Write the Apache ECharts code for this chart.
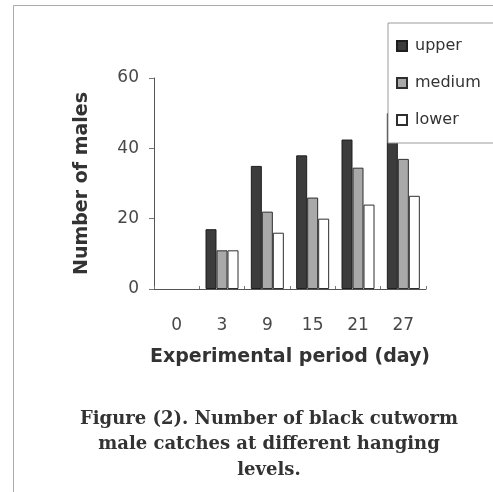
<!DOCTYPE html>
<html>
<head>
<meta charset="utf-8">
<script src="https://cdn.jsdelivr.net/npm/echarts@6/dist/echarts.min.js"></script>
<style>html,body{margin:0;padding:0;background:#fff}#c{width:493px;height:492px}</style>
</head>
<body>
<div id="c"></div>
<script>
var categories = ['0', '3', '9', '15', '21', '27'];
var upper = [0, 17, 35, 38, 42.5, 50];
var medium = [0, 11, 22, 26, 34.5, 37];
var lower = [0, 11, 16, 20, 24, 26.5];
var seriesNames = ['upper', 'medium', 'lower'];
var yTicks = { min: 0, max: 60, interval: 20 };
var captionLines = ['Figure (2). Number of black cutworm', 'male catches at different hanging', 'levels.'];

var chart = echarts.init(document.getElementById('c'), null, { renderer: 'canvas' });
var sans = '"DejaVu Sans", "Liberation Sans", Arial, sans-serif';
var serif = '"DejaVu Serif", "Liberation Serif", serif';
var styles = [
  { color: '#3c3c3c', borderColor: '#1e1e1e', borderWidth: 1 },
  { color: '#a9a9a9', borderColor: '#2e2e2e', borderWidth: 1 },
  { color: '#ffffff', borderColor: '#2e2e2e', borderWidth: 1 }
];
var dataSets = [upper, medium, lower];
var series = seriesNames.map(function (n, i) {
  return {
    name: n, type: 'bar',
    data: dataSets[i].map(function (v) { return v === 0 ? { value: v, itemStyle: { borderWidth: 0 } } : v; }),
    barWidth: 11, barGap: '0%',
    itemStyle: styles[i], emphasis: { disabled: true }, z: 2
  };
});

var caption = captionLines.map(function (t, i) {
  return {
    type: 'text', x: 269, y: 410 + i * 25.5,
    style: { text: t, font: 'bold 18px ' + serif, fill: '#333', textAlign: 'center' }
  };
});

chart.setOption({
  animation: false,
  backgroundColor: '#ffffff',
  grid: { left: 154, right: 67, top: 78, bottom: 203, containLabel: false },
  legend: {
    orient: 'vertical', left: 388, top: 23,
    padding: [15, 30, 15, 8], itemGap: 21,
    itemWidth: 10, itemHeight: 10, icon: 'rect',
    backgroundColor: '#ffffff', borderColor: '#9a9a9a', borderWidth: 1, borderRadius: 0,
    textStyle: { fontFamily: sans, fontSize: 16, color: '#333', padding: [0, 0, 0, 3] },
    data: seriesNames, z: 10
  },
  xAxis: {
    type: 'category', data: categories,
    name: 'Experimental period (day)', nameLocation: 'middle', nameGap: 59,
    nameTextStyle: { fontFamily: sans, fontSize: 19, fontWeight: 'bold', color: '#333' },
    axisLine: { lineStyle: { color: '#555', width: 1 } },
    axisTick: { show: true, length: 3, inside: true, lineStyle: { color: '#777' } },
    axisLabel: { fontFamily: sans, fontSize: 17, color: '#484848', margin: 28 }
  },
  yAxis: {
    type: 'value', min: yTicks.min, max: yTicks.max, interval: yTicks.interval,
    name: 'Number of males', nameLocation: 'middle', nameGap: 62,
    nameTextStyle: { fontFamily: sans, fontSize: 19, fontWeight: 'bold', color: '#333' },
    splitLine: { show: false },
    axisLine: { show: true, lineStyle: { color: '#555', width: 1 } },
    axisTick: { show: true, length: 5, lineStyle: { color: '#777' } },
    axisLabel: { fontFamily: sans, fontSize: 17, color: '#484848', margin: 15 }
  },
  graphic: [
    { type: 'line', shape: { x1: 13.5, y1: 5.5, x2: 493, y2: 5.5 }, style: { stroke: '#aaa', lineWidth: 1 } },
    { type: 'line', shape: { x1: 13.5, y1: 5.5, x2: 13.5, y2: 492 }, style: { stroke: '#aaa', lineWidth: 1 } }
  ].concat(caption),
  series: series
});
</script>
</body>
</html>
